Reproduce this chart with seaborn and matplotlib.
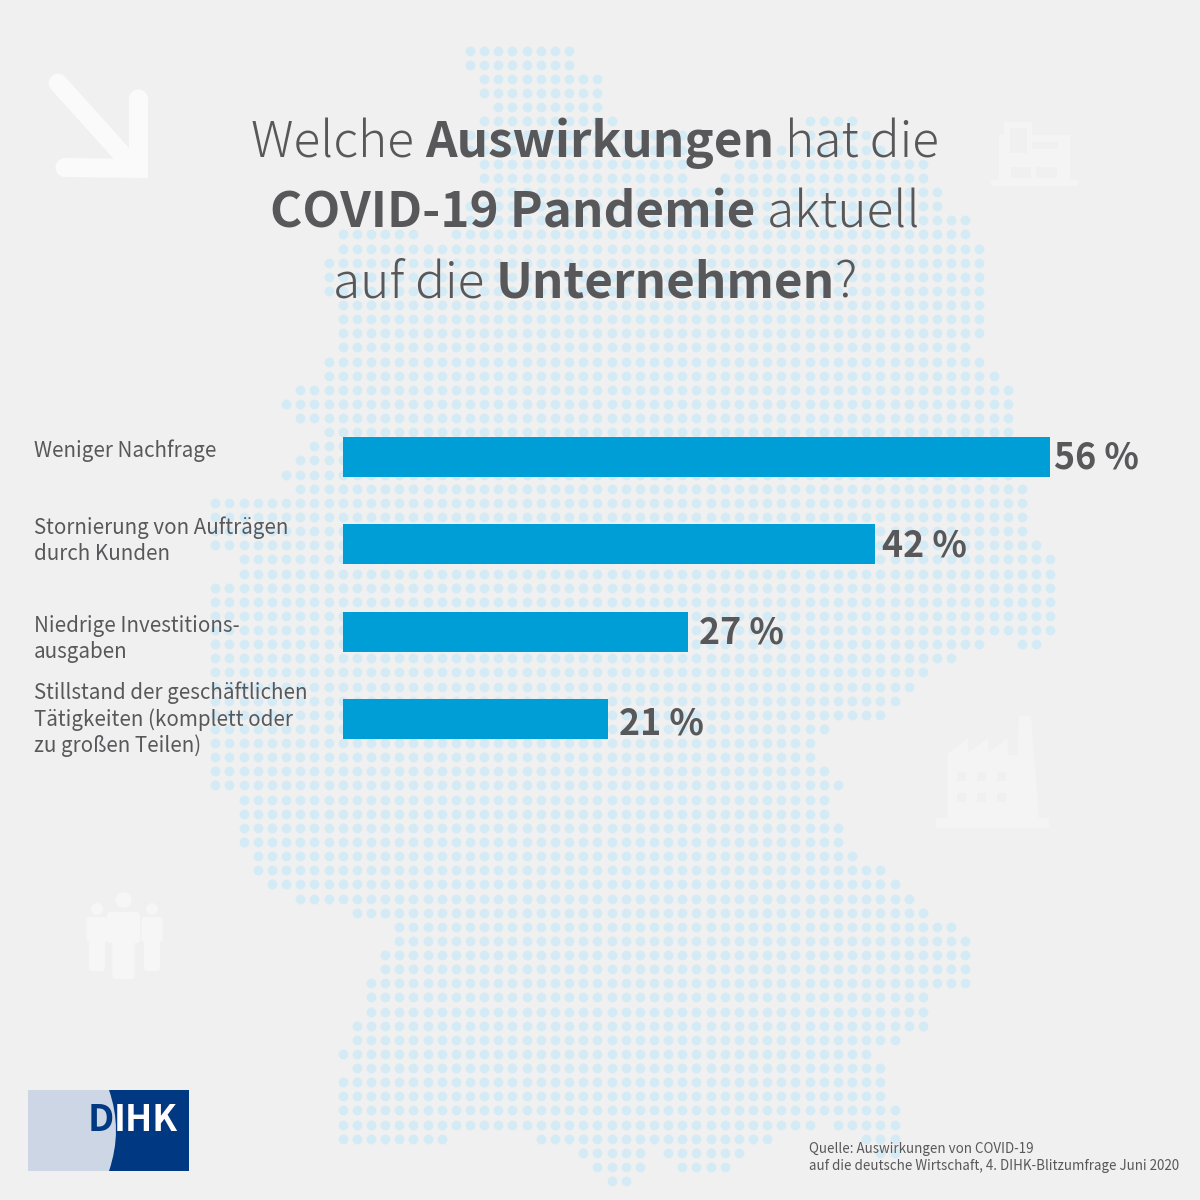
import matplotlib
matplotlib.use('Agg')
import matplotlib.pyplot as plt
import seaborn as sns
import pandas as pd
from matplotlib.patches import Rectangle, Polygon, Circle, FancyBboxPatch, PathPatch
from matplotlib.path import Path

# Chart data
categories = ['Weniger Nachfrage',
              'Stornierung von Aufträgen\ndurch Kunden',
              'Niedrige Investitions-\nausgaben',
              'Stillstand der geschäftlichen\nTätigkeiten (komplett oder\nzu großen Teilen)']
values = [56, 42.1, 27.3, 21]
value_labels = ['56 %', '42 %', '27 %', '21 %']
source = 'Quelle: Auswirkungen von COVID-19\nauf die deutsche Wirtschaft, 4. DIHK-Blitzumfrage Juni 2020'
title_lines = [[('Welche ', False), ('Auswirkungen', True), (' hat die', False)],
               [('COVID-19 Pandemie', True), (' aktuell', False)],
               [('auf die ', False), ('Unternehmen', True), ('?', False)]]

# Germany dot map: one list of column spans per row of the dot grid
map_rows = [
    [(0, 7)], [(0, 7)], [(1, 9)], [(1, 9)], [(2, 9)],
    [(1, 10), (24, 27)], [(0, 15), (24, 28)], [(0, 15), (22, 29)], [(1, 15), (19, 32)], [(1, 15), (18, 32)],
    [(2, 33)], [(0, 33)], [(0, 35)], [(-9, -4), (-1, 35)], [(-9, 36)],
    [(-10, 36)], [(-10, 36)], [(-10, 36)], [(-9, 36)], [(-9, 36)],
    [(-9, 36)], [(-9, 35)], [(-10, 36)], [(-10, 37)], [(-12, 38)],
    [(-13, 38)], [(-12, 38)], [(-10, 38)], [(-11, 38)], [(-12, 38)],
    [(-13, 38)], [(-12, 39)], [(-18, 39)], [(-18, 39)], [(-18, 39)],
    [(-18, 40)], [(-16, 41)], [(-16, 41)], [(-18, 41)], [(-18, 41)],
    [(-18, 41)], [(-18, 41)], [(-18, 36), (39, 40)], [(-18, 34)], [(-18, 32)],
    [(-18, 31)], [(-18, 30)], [(-18, 29)], [(-18, 25)], [(-18, 24)],
    [(-18, 24)], [(-18, 25)], [(-18, 26)], [(-16, 25)], [(-16, 25)],
    [(-16, 26)], [(-16, 26)], [(-15, 27)], [(-15, 29)], [(-14, 30)],
    [(-12, 31)], [(-8, 32)], [(-5, 34)], [(-5, 35)], [(-6, 35)],
    [(-6, 35)], [(-7, 35)], [(-7, 32)], [(-7, 32)], [(-8, 32)],
    [(-8, 30)], [(-9, 28)], [(-8, 29)], [(-9, 29)], [(-9, 29)],
    [(-9, 30)], [(-9, 24), (26, 30)], [(-9, -2), (5, 21), (28, 30)], [(8, 12), (14, 19), (29, 30)], [(9, 12), (15, 18)],
    [(10, 11)],
]

TEXT = '#58585a'
BG = '#f0f0f0'
BAR = '#009ed6'
DOT = '#d4ebf5'
FONT = 'Noto Sans CJK JP'

sns.set_theme(style='white')
plt.rcParams['font.family'] = [FONT, 'DejaVu Sans']

fig = plt.figure(figsize=(12, 12), dpi=100, facecolor=BG)

# Backdrop axes in picture pixels, y going down
bg = fig.add_axes([0, 0, 1, 1], zorder=0)
bg.axis('off')

dot_x, dot_y = [], []
for r, spans in enumerate(map_rows):
    for a, b in spans:
        for k in range(a, b + 1):
            dot_x.append(470 + 14.15 * k)
            dot_y.append(50.7 + 14.13 * r)
sns.scatterplot(x=dot_x, y=dot_y, ax=bg, color=DOT, s=50, linewidth=0, legend=False)
bg.set_xlim(0, 1200)
bg.set_ylim(1200, 0)

# Arrow icon
arrow_c = '#fafafa'
bg.plot([58, 130], [83, 163], color=arrow_c, lw=13.5, solid_capstyle='round')
bg.add_patch(Polygon([(129, 97), (129, 165), (148, 178), (148, 97)], fc=arrow_c, ec='none'))
bg.add_patch(Circle((138.5, 99), 9.5, fc=arrow_c, ec='none'))
bg.add_patch(Polygon([(64, 158), (148, 159), (148, 178), (64, 177)], fc=arrow_c, ec='none'))
bg.add_patch(Circle((65, 167.5), 9.5, fc=arrow_c, ec='none'))

# Office icon
ic = '#f4f4f4'
for x0, y0, x1, y1, c in [(999, 135, 1070, 182, ic), (1004, 122, 1032, 135, ic), (991, 180, 1078, 186, ic),
                          (1009.5, 128, 1027, 153, BG), (1032, 142, 1058, 149, BG),
                          (1011, 167, 1031, 178, BG), (1035.5, 167, 1056.5, 178, BG)]:
    bg.add_patch(Rectangle((x0, y0), x1 - x0, y1 - y0, fc=c, ec='none'))

# Factory icon
bg.add_patch(Polygon([(947.5, 818), (947.5, 754), (968, 738), (968, 753), (988, 738), (988, 753),
                      (1007.5, 738), (1007.5, 755), (1017, 755), (1019, 716), (1031, 716), (1039, 818)],
                     fc=ic, ec='none'))
bg.add_patch(Rectangle((936, 818), 112.5, 10, fc=ic, ec='none'))
for wx in [957, 977, 997]:
    for wy in [772, 793]:
        bg.add_patch(Rectangle((wx, wy), 9, 9, fc=BG, ec='none'))


# People icon
def person(cx, head_y, head_r, arm_w, arm_top, arm_bot, leg_w, leg_bot, c='#f6f6f6'):
    bg.add_patch(Circle((cx, head_y), head_r, fc=c, ec='none'))
    bg.add_patch(FancyBboxPatch((cx - arm_w / 2 + 3, arm_top + 3), arm_w - 6, arm_bot - arm_top - 6,
                                boxstyle='round,pad=3', fc=c, ec='none'))
    bg.add_patch(FancyBboxPatch((cx - leg_w / 2 + 3, arm_top + 3), leg_w - 6, leg_bot - arm_top - 6,
                                boxstyle='round,pad=3', fc=c, ec='none'))


person(97, 909, 6, 21, 917, 942, 16, 971)
person(152, 909, 6, 21, 917, 942, 16, 971)
person(123.5, 900, 8, 33, 912, 943, 22, 979)

# Logo
bg.add_patch(Rectangle((28, 1090), 161, 81, fc='#003882', ec='none'))
logo_path = Path([(28, 1090), (109, 1090), (123, 1130), (109, 1171), (28, 1171), (28, 1090)],
                 [Path.MOVETO, Path.LINETO, Path.CURVE3, Path.CURVE3, Path.LINETO, Path.CLOSEPOLY])
bg.add_patch(PathPatch(logo_path, fc='#cdd6e5', ec='none'))
bg.text(88, 1131, 'D', color='#003882', fontsize=26.5, fontweight='bold', ha='left', va='baseline')
bg.text(178, 1131, 'IHK', color='white', fontsize=26, fontweight='bold', ha='right', va='baseline')

# Bars
df = pd.DataFrame({'category': categories, 'value': values})
px_per_pct = 707 / 56
bar_step = 87.6
top = 456.5 - bar_step / 2
ax = fig.add_axes([343 / 1200, 1 - (top + 4 * bar_step) / 1200, 800 / 1200, 4 * bar_step / 1200], zorder=1)
ax.patch.set_alpha(0)
sns.barplot(data=df, x='value', y='category', color=BAR, saturation=1, width=40 / bar_step, linewidth=0, ax=ax)
ax.set_xlim(0, 800 / px_per_pct)
ax.set_ylim(3.5, -0.5)
ax.set_xlabel('')
ax.set_ylabel('')
ax.set_xticks([])
ax.set_yticks([])
sns.despine(ax=ax, left=True, bottom=True)

label_gap = [4, 7.5, 11, 11]
label_dy = [1.5, 1.5, 1.5, 4.5]
for i, v in enumerate(values):
    ax.annotate(value_labels[i], xy=(v, i), xytext=(label_gap[i] * 0.72, -label_dy[i] * 0.72),
                textcoords='offset points', va='center', ha='left',
                color=TEXT, fontsize=25.8, fontweight='bold')

# Category labels
label_y = [451, 540.5, 639, 719.5]
for cat, y in zip(categories, label_y):
    bg.text(34, y, cat, color=TEXT, fontsize=14.8, va='center', ha='left', linespacing=1.22, zorder=5)

# Source
fig.text(809 / 1200, 1 - 1173 / 1200, source, color=TEXT, fontsize=9.64, ha='left', va='bottom', linespacing=1.25)

# Title, one text per weight, each line centred
fig.canvas.draw()
rend = fig.canvas.get_renderer()
baselines = [157, 227, 297]
for line, base in zip(title_lines, baselines):
    parts = []
    total = 0
    for s, bold in line:
        t = bg.text(0, base, s.replace(' ', '\u00a0'), color=TEXT, fontsize=35.5 if bold else 35.7,
                    fontweight='bold' if bold else 'light', va='baseline', ha='left', zorder=6)
        w = t.get_window_extent(rend).width
        parts.append((t, w))
        total += w
    x = 595 - total / 2
    for t, w in parts:
        t.set_x(x)
        x += w

fig.savefig('out.png', dpi=100, facecolor=BG)
